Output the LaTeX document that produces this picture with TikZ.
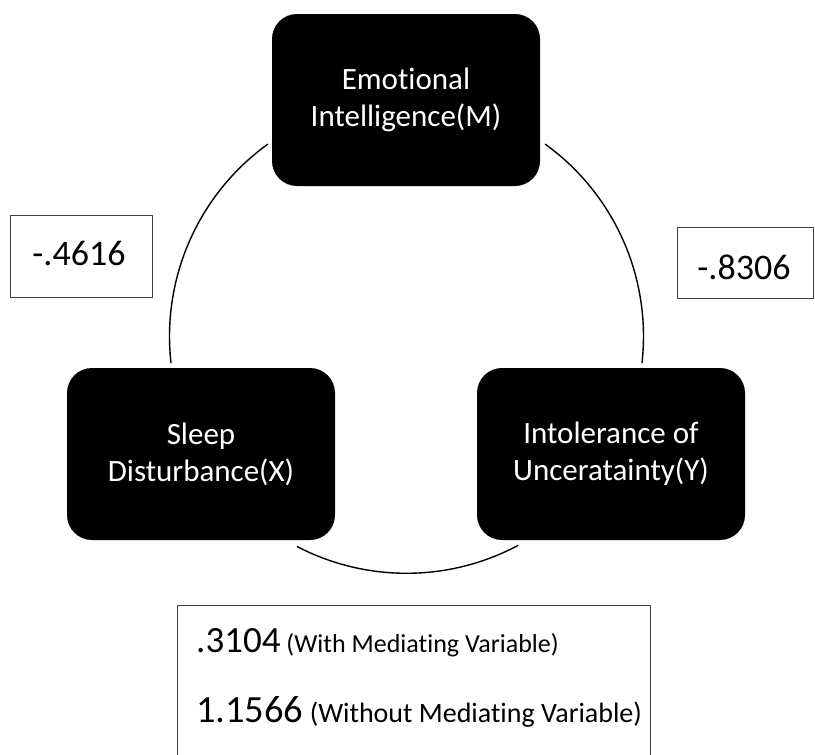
\documentclass[tikz,border=0pt]{standalone}
\usepackage{fontspec}
\setmainfont{Carlito}[Ligatures=NoCommon]
\begin{document}
\begin{tikzpicture}[x=1pt,y=-1pt,
  varbox/.style={fill=black,text=white,rounded corners=25pt,minimum width=268pt,minimum height=172pt,align=center,inner sep=0pt,font=\fontsize{31}{37}\selectfont},
  valbox/.style={draw=black!75,line width=1pt,inner sep=0pt},
  valtext/.style={font=\fontsize{36}{42}\selectfont,anchor=base,inner sep=0pt},
  cyc/.style={line width=1.4pt}]
\useasboundingbox (0,0) rectangle (815,755);
\coordinate (C) at (406.5,336.3);
\node[varbox] (M) at (406,100) {Emotional\\Intelligence(M)};
\node[varbox] (X) at (201,454) {Sleep\\Disturbance(X)};
\node[varbox] (Y) at (611,454) {Intolerance of\\Unceratainty(Y)};
\draw[cyc] (C) ++(-54.2:237) arc[start angle=-54.2,end angle=6.5,radius=237];
\draw[cyc] (C) ++(61.9:237) arc[start angle=61.9,end angle=117.5,radius=237];
\draw[cyc] (C) ++(173.5:237) arc[start angle=173.5,end angle=234.2,radius=237];
\node[valbox,minimum width=142pt,minimum height=82pt] (a) at (81,256) {};
\node[valtext] (at) at (79,265) {-.4616};
\node[valbox,minimum width=136pt,minimum height=71pt] (b) at (745,262.5) {};
\node[valtext] (bt) at (744,279) {-.8306};
\draw[black!75,line width=1pt] (177,765) -- (177,605) -- (650,605) -- (650,765);
\node[anchor=base west,inner sep=0pt] (c1) at (196,652) {\fontsize{37}{44}\selectfont .3104\fontsize{26}{31}\selectfont\ (With Mediating Variable)};
\node[anchor=base west,inner sep=0pt] (c2) at (196,722) {\fontsize{38.5}{46}\selectfont 1.1566\fontsize{28}{33}\selectfont\ (Without Mediating Variable)};
\end{tikzpicture}
\end{document}
